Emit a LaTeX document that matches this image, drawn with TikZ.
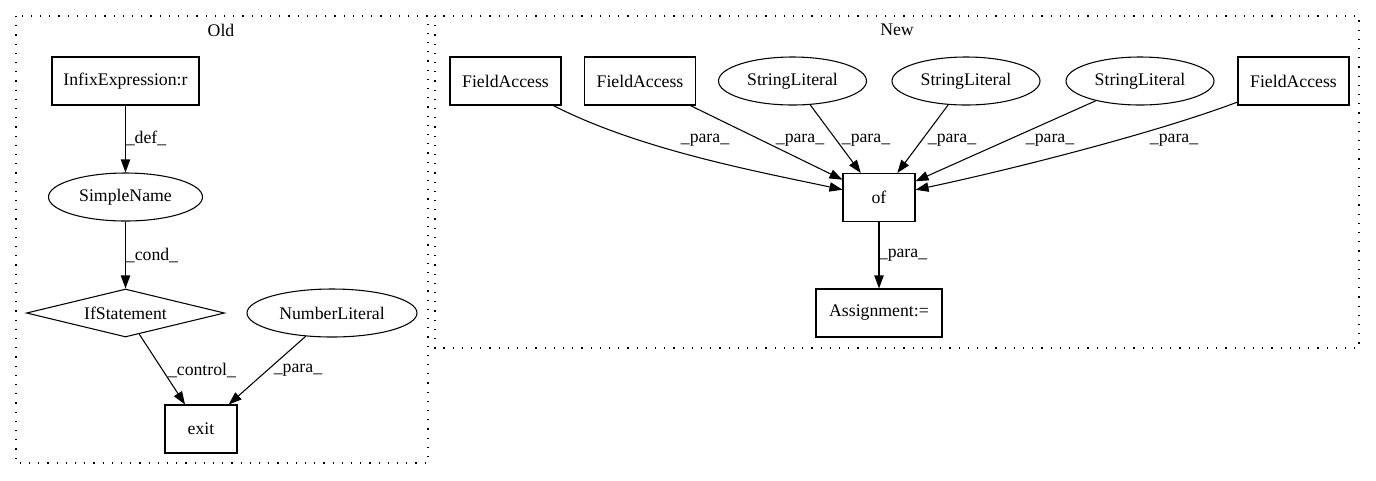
\documentclass[tikz,border=0pt]{standalone}
\usepackage{fontspec}
\setmainfont{Liberation Serif}
\usetikzlibrary{shapes.geometric,arrows.meta}
\begin{document}
\begin{tikzpicture}[x=0.75pt,y=-0.75pt,
  base/.style={draw,line width=0.8pt,inner sep=0pt,font=\fontsize{13.3pt}{15pt}\selectfont},
  box/.style={base,rectangle,minimum height=36pt},
  ell/.style={base,ellipse,minimum height=36pt},
  dia/.style={base,diamond,shape aspect=4.125,minimum height=36pt},
  lbl/.style={font=\fontsize{13.3pt}{15pt}\selectfont,inner sep=0pt},
  edge/.style={line width=0.8pt,-{Triangle[length=9.75pt,width=7pt]}},
  cluster/.style={line width=0.9pt,dash pattern=on 0.9pt off 6pt},
]
\useasboundingbox (0,0) rectangle (1376,480);

% clusters
\draw[cluster] (16,16) rectangle (428,463);
\draw[cluster] (435,16) rectangle (1359,348);
\node[lbl] (oldt) at (221,30) {Old};
\node[lbl] (newt) at (897,30) {New};

% Old
\node[box,minimum width=110.25pt] (infix) at (125.5,81) {InfixExpression:r};
\node[ell,minimum width=115.5pt] (simple) at (125.5,197) {SimpleName};
\node[dia,minimum width=148.5pt] (ifst) at (125.5,313) {IfStatement};
\node[ell,minimum width=127.5pt] (numlit) at (332,313) {NumberLiteral};
\node[box,minimum width=54pt] (exit) at (201,429) {exit};

\draw[edge] (infix) -- (simple);
\draw[edge] (simple) -- (ifst);
\draw[edge] (ifst) -- (exit);
\draw[edge] (numlit) -- (exit);

\node[lbl] (ldef) at (146,138) {\_def\_};
\node[lbl] (lcond) at (152,255) {\_cond\_};
\node[lbl] (lctrl) at (202,370) {\_control\_};
\node[lbl] (lpara) at (298,370) {\_para\_};

% New
\node[box,minimum width=83.25pt] (fa1) at (505.5,81) {FieldAccess};
\node[box,minimum width=83.25pt] (fa2) at (640,81) {FieldAccess};
\node[ell,minimum width=111pt] (sl1) at (792.5,81) {StringLiteral};
\node[ell,minimum width=111pt] (sl2) at (966,81) {StringLiteral};
\node[ell,minimum width=111pt] (sl3) at (1140,81) {StringLiteral};
\node[box,minimum width=83.25pt] (fa3) at (1293.5,81) {FieldAccess};
\node[box,minimum width=54pt] (of) at (879,197.5) {of};
\node[box,minimum width=94.5pt] (asg) at (879,313) {Assignment:=};

\draw[edge] (fa1) .. controls (640,150) and (760,172) .. (of);
\draw[edge] (fa2) -- (of);
\draw[edge] (sl1) -- (of);
\draw[edge] (sl2) -- (of);
\draw[edge] (sl3) -- (of);
\draw[edge] (fa3) .. controls (1150,135) and (1000,172) .. (of);
\draw[edge] (of) -- (asg);

\node[lbl] (p1) at (705,140) {\_para\_};
\node[lbl] (p2) at (800,140) {\_para\_};
\node[lbl] (p3) at (866,140) {\_para\_};
\node[lbl] (p4) at (952,140) {\_para\_};
\node[lbl] (p5) at (1050,140) {\_para\_};
\node[lbl] (p6) at (1174,140) {\_para\_};
\node[lbl] (p7) at (903,255) {\_para\_};
\end{tikzpicture}
\end{document}
